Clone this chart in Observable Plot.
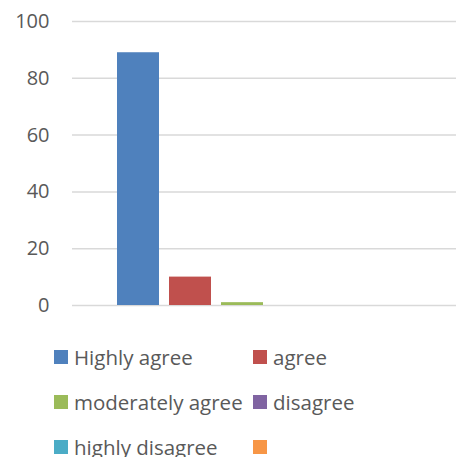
<!DOCTYPE html>
<html>
<head>
<meta charset="utf-8">
<script src="https://cdn.jsdelivr.net/npm/d3@7"></script>
<script src="https://cdn.jsdelivr.net/npm/@observablehq/plot@0.6"></script>
<style>
  html, body { margin: 0; padding: 0; background: #fff; }
  #chart { width: 456px; height: 457px; position: relative; overflow: hidden; font-family: "Open Sans", sans-serif; }
  #legend { display: grid; grid-template-columns: 199px 180px; grid-auto-rows: 45px; padding-left: 54px; padding-top: 14.5px; }
  .item { display: flex; align-items: center; font-size: 20.5px; color: #595959; white-space: nowrap; }
  .sw { width: 14px; height: 14px; margin-right: 6px; flex: none; }
</style>
</head>
<body>
<div id="chart"></div>
<script>
const categories = ["Highly agree", "agree", "moderately agree", "disagree", "highly disagree", ""];
const values = [89, 10, 1, 0, 0, 0];
const colors = ["#4f81bd", "#c0504d", "#9bbb59", "#8064a2", "#4bacc6", "#f79646"];
const yTicks = [0, 20, 40, 60, 80, 100];

const data = categories.map((c, i) => ({category: c, value: values[i]}));

const plot = Plot.plot({
  width: 456,
  height: 320,
  marginTop: 21,
  marginBottom: 15,
  marginLeft: 72,
  marginRight: 0,
  style: {fontFamily: "Open Sans, sans-serif", fontSize: "20px", color: "#595959", background: "#fff"},
  x: {domain: categories, range: [117, 419], paddingInner: 10 / 52, paddingOuter: 0, axis: null},
  y: {domain: [0, 100], ticks: yTicks, label: null},
  color: {domain: categories, range: colors},
  marks: [
    Plot.gridY(yTicks, {stroke: "#d9d9d9", strokeOpacity: 1, strokeWidth: 1.5}),
    Plot.axisY(yTicks, {tickSize: 0, tickPadding: 23, fill: "#595959", fontSize: 20, label: null}),
    Plot.barY(data, {x: "category", y: "value", fill: "category"})
  ]
});

const chart = document.getElementById("chart");
chart.appendChild(plot);

const legend = document.createElement("div");
legend.id = "legend";
categories.forEach((c, i) => {
  const item = document.createElement("div");
  item.className = "item";
  const sw = document.createElement("span");
  sw.className = "sw";
  sw.style.background = colors[i];
  const t = document.createElement("span");
  t.textContent = c;
  item.appendChild(sw);
  item.appendChild(t);
  legend.appendChild(item);
});
chart.appendChild(legend);
</script>
</body>
</html>
